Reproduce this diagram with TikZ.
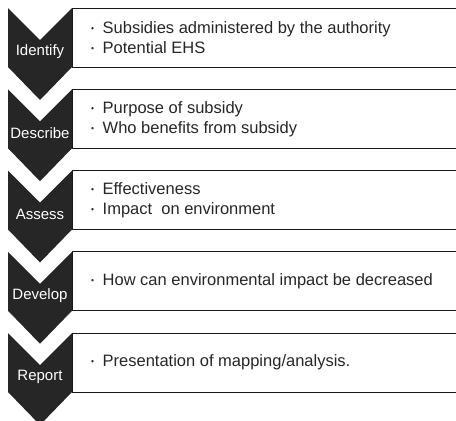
\documentclass[tikz,border=0pt]{standalone}
\usepackage{fontspec}
\setmainfont{Liberation Sans}
\usetikzlibrary{positioning}
\tikzset{
  chev/.style={fill=black!85},
  frame/.style={draw=black!90, line width=0.9pt},
  stage/.style={text=white, inner sep=0pt, font=\fontsize{15}{17}\selectfont},
  pts/.style={anchor=west, align=left, inner sep=0pt, text=black!85, font=\fontsize{16.5}{20}\selectfont}
}
\newcommand{\itm}{\raisebox{1.8pt}{\fontsize{8.5}{8.5}\selectfont\textbullet}\hspace{8.5pt}}

\begin{document}
\begin{tikzpicture}[x=1pt, y=-1pt]
    \useasboundingbox (0,0) rectangle (456,421);

    % Boxes and chevrons, one row per stage
    \foreach \n/\lbl [count=\i from 0] in {id/Identify, de/Describe, as/Assess, dv/Develop, rp/Report} {
        \pgfmathsetmacro\yt{8+81.25*\i}
        \draw[frame] (456,\yt) -- (72,\yt) -- (72,\yt+59) -- (456,\yt+59);
        \fill[chev] (8,\yt) -- (40,\yt+32) -- (72,\yt) -- (72,\yt+59)
            -- (40,\yt+92) -- (8,\yt+59) -- cycle;
        \node[stage] (\n) at (40,\yt+44) {\lbl};
    }

    % Bullet points
    \node[pts] (idtxt) at (91,37.5) {\itm Subsidies administered by the authority\\ \itm Potential EHS};
    \node[pts] (detxt) at (91,118.75) {\itm Purpose of subsidy\\ \itm Who benefits from subsidy};
    \node[pts] (astxt) at (91,200) {\itm Effectiveness\\ \itm Impact\ \ on environment};
    \node[pts] (dvtxt) at (91,281.25) {\itm How can environmental impact be decreased};
    \node[pts] (rptxt) at (91,362.5) {\itm Presentation of mapping/analysis.};
\end{tikzpicture}
\end{document}
